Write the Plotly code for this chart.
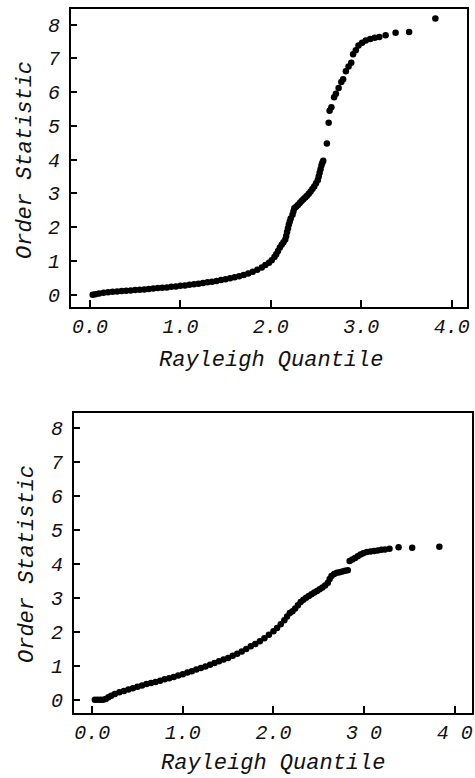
import plotly.graph_objects as go

# ---- Top panel data (Rayleigh quantile, order statistic) ----
top_x = [0.03, 0.06, 0.10, 0.15, 0.20, 0.25, 0.30, 0.35, 0.40, 0.45, 0.50, 0.55, 0.60, 0.65,
         0.70, 0.75, 0.80, 0.85, 0.90, 0.95, 1.00, 1.05, 1.10, 1.15, 1.20, 1.25, 1.30, 1.35,
         1.40, 1.45, 1.50, 1.55, 1.60, 1.65, 1.70, 1.75, 1.80, 1.85, 1.90, 1.94, 1.98, 2.01,
         2.04, 2.06, 2.08, 2.10, 2.12, 2.14, 2.16, 2.17, 2.18, 2.19, 2.20, 2.21, 2.22, 2.24,
         2.25, 2.26, 2.28, 2.30, 2.32, 2.34, 2.36, 2.38, 2.40, 2.42, 2.44, 2.46, 2.48, 2.50,
         2.52, 2.53, 2.54, 2.55, 2.56, 2.57, 2.58,
         2.62, 2.64, 2.65, 2.67, 2.70, 2.72, 2.75, 2.78, 2.80, 2.83, 2.86, 2.89, 2.91, 2.94,
         2.97, 3.01, 3.05, 3.10, 3.15, 3.20, 3.27, 3.38, 3.53, 3.82]
top_y = [0.00, 0.02, 0.04, 0.06, 0.08, 0.09, 0.10, 0.11, 0.12, 0.13, 0.14, 0.15, 0.16, 0.17,
         0.19, 0.20, 0.21, 0.22, 0.24, 0.25, 0.27, 0.28, 0.30, 0.31, 0.33, 0.35, 0.37, 0.39,
         0.41, 0.44, 0.46, 0.49, 0.52, 0.55, 0.59, 0.63, 0.68, 0.74, 0.81, 0.88, 0.95, 1.02,
         1.12, 1.20, 1.30, 1.40, 1.48, 1.56, 1.64, 1.74, 1.86, 1.97, 2.08, 2.17, 2.26, 2.37,
         2.47, 2.56, 2.61, 2.66, 2.72, 2.78, 2.83, 2.88, 2.93, 2.99, 3.06, 3.13, 3.21, 3.30,
         3.40, 3.50, 3.61, 3.72, 3.83, 3.91, 3.97,
         4.48, 5.09, 5.45, 5.55, 5.85, 5.95, 6.12, 6.30, 6.38, 6.62, 6.76, 6.87, 7.12, 7.24,
         7.38, 7.46, 7.53, 7.57, 7.61, 7.63, 7.68, 7.76, 7.78, 8.18]

# ---- Bottom panel data ----
bot_x = [0.03, 0.06, 0.09, 0.12, 0.15, 0.18, 0.21, 0.25, 0.30, 0.35, 0.40, 0.45, 0.50, 0.55,
         0.60, 0.65, 0.70, 0.75, 0.80, 0.85, 0.90, 0.95, 1.00, 1.05, 1.10, 1.15, 1.20, 1.25,
         1.30, 1.35, 1.40, 1.45, 1.50, 1.55, 1.60, 1.65, 1.70, 1.75, 1.80, 1.85, 1.90, 1.95,
         2.00, 2.04, 2.08, 2.12, 2.15, 2.18, 2.21, 2.24, 2.27, 2.30, 2.33, 2.36, 2.39, 2.42,
         2.45, 2.48, 2.51, 2.54, 2.57, 2.60, 2.62, 2.64, 2.67, 2.70, 2.73, 2.76, 2.79, 2.82,
         2.84, 2.87, 2.90, 2.93, 2.96, 2.99, 3.03, 3.07, 3.11, 3.15, 3.19, 3.23, 3.28, 3.38,
         3.53, 3.83]
bot_y = [0.00, 0.00, 0.00, 0.00, 0.02, 0.07, 0.12, 0.17, 0.22, 0.26, 0.30, 0.34, 0.38, 0.42,
         0.46, 0.49, 0.52, 0.56, 0.60, 0.63, 0.67, 0.71, 0.75, 0.80, 0.84, 0.89, 0.93, 0.98,
         1.03, 1.08, 1.13, 1.18, 1.23, 1.29, 1.35, 1.42, 1.49, 1.57, 1.64, 1.72, 1.81, 1.91,
         2.01, 2.11, 2.22, 2.34, 2.45, 2.55, 2.60, 2.68, 2.78, 2.87, 2.94, 3.00, 3.05, 3.10,
         3.15, 3.20, 3.25, 3.30, 3.36, 3.44, 3.55, 3.64, 3.70, 3.73, 3.75, 3.77, 3.79, 3.81,
         4.08, 4.12, 4.17, 4.22, 4.27, 4.31, 4.34, 4.36, 4.37, 4.39, 4.41, 4.42, 4.44, 4.48,
         4.47, 4.50]

x_tickvals = [0, 1, 2, 3, 4]
top_xticktext = ["0.0", "1.0", "2.0", "3.0", "4.0"]
bot_xticktext = ["0.0", "1.0", "2.0", "3 0", "4 0"]
y_tickvals = [0, 1, 2, 3, 4, 5, 6, 7, 8]
y_ticktext = ["0", "1", "2", "3", "4", "5", "6", "7", "8"]

x_title = "Rayleigh Quantile"
y_title = "Order Statistic"

FONT = "Liberation Mono"
W, H = 475, 778

fig = go.Figure()
marker = dict(color="black", size=6.5, line=dict(width=0))
fig.add_trace(go.Scatter(x=top_x, y=top_y, mode="markers", marker=marker,
                         xaxis="x", yaxis="y", showlegend=False, hoverinfo="skip"))
fig.add_trace(go.Scatter(x=bot_x, y=bot_y, mode="markers", marker=marker,
                         xaxis="x2", yaxis="y2", showlegend=False, hoverinfo="skip"))

def px_dom_x(a, b):
    return [a / W, b / W]

def px_dom_y(top, bottom):
    return [(H - bottom) / H, (H - top) / H]

tickfont = dict(family=FONT, size=20, color="#111", style="italic")
common_x = dict(showgrid=False, zeroline=False, showline=True, linecolor="black",
                linewidth=2, mirror=True, ticks="inside", ticklen=7, tickwidth=1.5,
                tickcolor="black", tickvals=x_tickvals, tickfont=tickfont,
                ticklabelstandoff=0, automargin=False, fixedrange=True)
common_y = dict(showgrid=False, zeroline=False, showline=True, linecolor="black",
                linewidth=2, mirror=True, ticks="inside", ticklen=6, tickwidth=1.5,
                tickcolor="black", tickvals=y_tickvals, ticktext=y_ticktext,
                tickfont=tickfont, ticklabelstandoff=5, automargin=False, fixedrange=True)

fig.update_layout(
    width=W, height=H,
    margin=dict(l=0, r=0, t=0, b=0),
    paper_bgcolor="white", plot_bgcolor="white",
    xaxis=dict(domain=px_dom_x(71, 467), range=[-0.21, 4.17], anchor="y",
               ticktext=top_xticktext, **common_x),
    yaxis=dict(domain=px_dom_y(9, 307), range=[-0.36, 8.46], anchor="x", **common_y),
    xaxis2=dict(domain=px_dom_x(74, 472), range=[-0.20, 4.19], anchor="y2",
                ticktext=bot_xticktext, **common_x),
    yaxis2=dict(domain=px_dom_y(413, 713), range=[-0.39, 8.43], anchor="x2", **common_y),
)

title_font = dict(family=FONT, size=22, color="#111", style="italic")
def ann(text, x, y, angle=0):
    fig.add_annotation(text=text, x=x / W, y=(H - y) / H, xref="paper",
                       yref="paper", showarrow=False, textangle=angle,
                       font=title_font, xanchor="center", yanchor="middle")

ann(x_title, 271, 360)
ann(y_title, 25, 160, -90)
ann(x_title, 273, 763)
ann(y_title, 27, 564, -90)

fig.write_html(
    "out.html",
    config={"displayModeBar": False},
    post_script="document.body.style.margin='0';document.body.style.padding='0';"
                "document.documentElement.style.overflow='hidden';",
)
